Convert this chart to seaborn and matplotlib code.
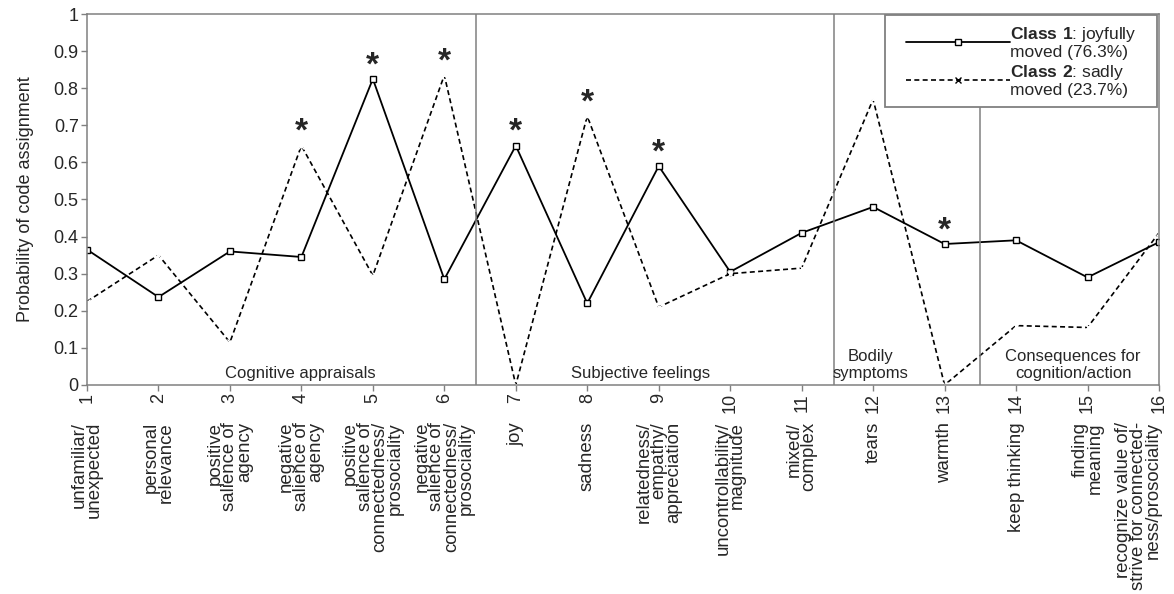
import matplotlib
matplotlib.use("Agg")
import matplotlib.pyplot as plt
import matplotlib.transforms as mtransforms
from matplotlib.lines import Line2D
from matplotlib.patches import Rectangle
import seaborn as sns
import pandas as pd

sns.set_theme(style="white")
plt.rcParams['font.family'] = ['Liberation Sans', 'DejaVu Sans']
plt.rcParams['mathtext.fontset'] = 'custom'
plt.rcParams['mathtext.rm'] = 'Liberation Sans'
plt.rcParams['mathtext.bf'] = 'Liberation Sans:bold'

codes = list(range(1, 17))
categories = [
    "unfamiliar/\nunexpected",
    "personal\nrelevance",
    "positive\nsalience of\nagency",
    "negative\nsalience of\nagency",
    "positive\nsalience of\nconnectedness/\nprosociality",
    "negative\nsalience of\nconnectedness/\nprosociality",
    "joy",
    "sadness",
    "relatedness/\nempathy/\nappreciation",
    "uncontrollability/\nmagnitude",
    "mixed/\ncomplex",
    "tears",
    "warmth",
    "keep thinking",
    "finding\nmeaning",
    "recognize value of/\nstrive for connected-\nness/prosociality",
]
class1 = [0.365, 0.237, 0.36, 0.345, 0.825, 0.285, 0.645, 0.22, 0.59, 0.305,
          0.41, 0.48, 0.38, 0.39, 0.29, 0.385]
class2 = [0.225, 0.35, 0.115, 0.645, 0.295, 0.835, 0.0, 0.725, 0.21, 0.30,
          0.315, 0.77, 0.0, 0.16, 0.155, 0.41]
# significant differences: code -> which class the asterisk sits above
sig_codes = [4, 5, 6, 7, 8, 9, 13]
sig_class = [2, 1, 2, 1, 2, 1, 1]

sections = ["Cognitive appraisals", "Subjective feelings", "Bodily\nsymptoms",
            "Consequences for\ncognition/action"]
section_centers = [3.98, 8.74, 11.96, 14.8]
section_bounds = [6.45, 11.45, 13.5]

df = pd.DataFrame({"code": codes, "c1": class1, "c2": class2})

fig = plt.figure(figsize=(11.74, 5.94), dpi=100)
ax = fig.add_axes([0.0741, 0.3519, 0.9872 - 0.0741, 0.9764 - 0.3519])

sns.lineplot(data=df, x="code", y="c1", ax=ax, color="black", lw=1.3,
             marker="s", markersize=5, markerfacecolor="white",
             markeredgecolor="black", markeredgewidth=1.0)
sns.lineplot(data=df, x="code", y="c2", ax=ax, color="black", lw=1.2,
             linestyle=(0, (3, 2)), marker="x", markersize=4,
             markeredgewidth=1.0)

for b in section_bounds:
    ax.axvline(b, color="#808080", lw=1.1)

for c, k in zip(sig_codes, sig_class):
    yv = class1[c - 1] if k == 1 else class2[c - 1]
    ax.annotate("*", (c, yv), xytext=(0, 3.5), textcoords="offset points",
                ha="center", va="baseline", fontsize=24, fontweight="bold")

for s, xc in zip(sections, section_centers):
    ax.text(xc, 0.012, s, ha="center", va="bottom", fontsize=12,
            multialignment="center", linespacing=1.1)

ax.set_xlim(1, 16)
ax.set_ylim(0, 1)
ax.set_xticks(codes)
ax.set_xticklabels([str(c) for c in codes], rotation=90, fontsize=13)
ax.set_yticks([i / 10 for i in range(11)])
ax.set_yticklabels(["0", "0.1", "0.2", "0.3", "0.4", "0.5", "0.6", "0.7",
                    "0.8", "0.9", "1"], fontsize=13)
ax.tick_params(axis="both", direction="out", length=4, color="#808080",
               width=1, pad=2, bottom=True, left=True)
ax.set_xlabel("")
ax.set_ylabel("Probability of code assignment", fontsize=13, labelpad=14)
for sp in ax.spines.values():
    sp.set_color("#808080")
    sp.set_linewidth(1.1)

trans = mtransforms.blended_transform_factory(ax.transData, fig.transFigure)
for c, lab in zip(codes, categories):
    last = c == codes[-1]
    ax.text(c + (0.04 if last else 0), 1 - 422 / 594, lab, transform=trans,
            rotation=90, ha="right" if last else "center", va="top",
            multialignment="right", fontsize=13.4, linespacing=0.83)

# legend box
fig.patches.append(Rectangle((885 / 1174, 1 - 107 / 594), (1157 - 885) / 1174,
                             (107 - 15) / 594, transform=fig.transFigure,
                             facecolor="white", edgecolor="#808080", lw=1.3,
                             zorder=5))
handles = [
    Line2D([], [], color="black", lw=1.3, marker="s", markersize=5,
           markerfacecolor="white", markeredgecolor="black"),
    Line2D([], [], color="black", lw=1.2, linestyle=(0, (3, 2)), marker="x",
           markersize=4),
]
labels = [r"$\bf{Class\ 1}$: joyfully" + "\nmoved (76.3%)",
          r"$\bf{Class\ 2}$: sadly" + "\nmoved (23.7%)"]
leg = fig.legend(handles, labels, loc="upper left",
                 bbox_to_anchor=(906 / 1174, 1 - 25 / 594), fontsize=12.5,
                 handlelength=6.0, handletextpad=0.0, frameon=False,
                 borderpad=0, labelspacing=0.2, borderaxespad=0)
leg.set_zorder(6)
for t in leg.get_texts():
    t.set_linespacing(1.05)

fig.savefig("out.png", dpi=100)
